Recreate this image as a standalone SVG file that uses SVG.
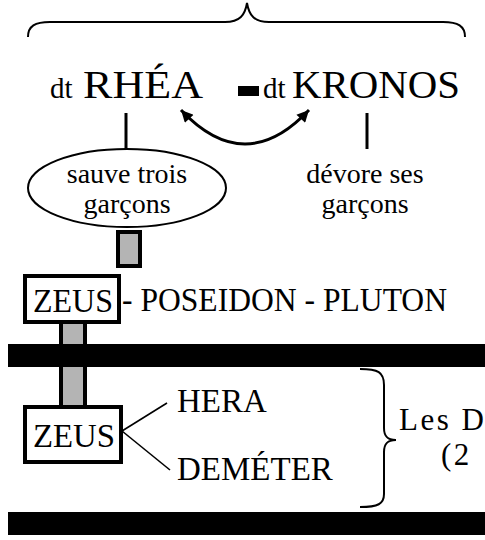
<svg xmlns="http://www.w3.org/2000/svg" width="485" height="540" viewBox="0 0 485 540">
<style>
text{font-family:"Liberation Serif","Times New Roman",serif;fill:#000}
.big{font-size:40px}
.dt{font-size:29px}
.cap{font-size:33px}
.sm{font-size:28px}
.les{font-size:31px;letter-spacing:2.5px}
.mid{text-anchor:middle}
.box{fill:#fff;stroke:#000;stroke-width:4}
.gray{fill:#b4b4b4;stroke:#000;stroke-width:4}
.ln{fill:none;stroke:#000;stroke-width:3}
.thin{fill:none;stroke:#000;stroke-width:1.6}
.brace{fill:none;stroke:#000;stroke-width:2}
.bar{fill:#000}
</style>
<defs>
<marker id="ah" viewBox="0 0 10 10" refX="10" refY="5" markerUnits="userSpaceOnUse" markerWidth="15" markerHeight="12" orient="auto-start-reverse">
<path d="M0,0 L10,5 L0,10 z" fill="#000"/>
</marker>
</defs>
<g id="top-brace"><path class="brace" d="M28,37 C28,26 35,22 50,22 L225,22 C240,22 245,15 247,3 C249,15 254,22 269,22 L443,22 C458,22 465,26 465,37"/></g>
<g id="connectors">
<line x1="126" y1="113" x2="126" y2="149" class="ln"/>
<line x1="367" y1="113" x2="367" y2="149" class="ln"/>
<path d="M181,110 Q245,178 309,110" class="ln" marker-start="url(#ah)" marker-end="url(#ah)"/>
<rect x="118" y="232" width="22" height="34" class="gray"/>
<rect x="61" y="322" width="24" height="86" class="gray"/>
<line x1="122" y1="431" x2="167" y2="403" class="thin"/>
<line x1="122" y1="431" x2="170" y2="470" class="thin"/>
</g>
<g id="rhea"><text x="50" y="98" class="dt">dt</text><text x="83" y="98" class="big" textLength="120" lengthAdjust="spacingAndGlyphs">RHÉA</text></g>
<g id="marriage"><rect x="238" y="86" width="21" height="10" class="bar"/></g>
<g id="kronos"><text x="263" y="98" class="dt">dt</text><text x="292" y="98" class="big" textLength="168" lengthAdjust="spacingAndGlyphs">KRONOS</text></g>
<g id="sauve"><ellipse cx="127" cy="188" rx="99" ry="39" fill="#fff" stroke="#000" stroke-width="2"/><text x="127" y="183" class="sm mid">sauve trois</text><text x="127" y="213" class="sm mid">garçons</text></g>
<g id="devore"><text x="365" y="183" class="sm mid">dévore ses</text><text x="365" y="213" class="sm mid">garçons</text></g>
<g id="bar1"><rect x="8" y="344" width="480" height="23" class="bar"/></g>
<g id="bar2"><rect x="8" y="512" width="480" height="23" class="bar"/></g>
<g id="zeus1"><rect x="25" y="276" width="94" height="46" class="box"/><text x="33" y="312" class="cap" textLength="80" lengthAdjust="spacingAndGlyphs">ZEUS</text></g>
<g id="brothers"><text x="122" y="311" class="cap" textLength="325" lengthAdjust="spacingAndGlyphs">- POSEIDON - PLUTON</text></g>
<g id="zeus2"><rect x="25" y="407" width="96" height="55" class="box"/><text x="33" y="447" class="cap" textLength="82" lengthAdjust="spacingAndGlyphs">ZEUS</text></g>
<g id="hera"><text x="177" y="412" class="cap">HERA</text></g>
<g id="demeter"><text x="177" y="480" class="cap">DEMÉTER</text></g>
<g id="right-brace"><path class="brace" d="M360,369 C378,369 384,372 384,385 L384,428 C384,436 387,440 396,440 C387,440 384,444 384,452 L384,494 C384,504 378,507 360,507"/></g>
<g id="dieux"><text x="399" y="430" class="les">Les D</text><text x="441" y="465" class="les">(2</text></g>
</svg>
